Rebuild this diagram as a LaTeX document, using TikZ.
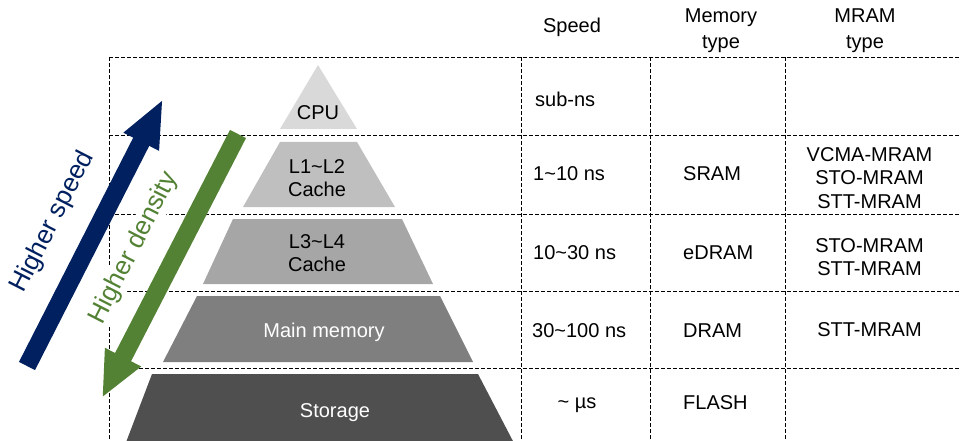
\documentclass[tikz,border=0pt]{standalone}
\usepackage{fontspec}
\setmainfont{Liberation Sans}
\usetikzlibrary{arrows.meta}
\definecolor{navyarrow}{HTML}{002060}
\definecolor{leafarrow}{HTML}{548235}
\definecolor{tierA}{HTML}{D9D9D9}
\definecolor{tierB}{HTML}{BFBFBF}
\definecolor{tierC}{HTML}{A6A6A6}
\definecolor{tierD}{HTML}{7F7F7F}
\definecolor{tierE}{HTML}{4F4F4F}
\begin{document}
\begin{tikzpicture}[x=1pt,y=-1pt,
  gridline/.style={line width=0.9pt, dash pattern=on 4pt off 2pt},
  txt/.style={font=\fontsize{20}{24}\selectfont, inner sep=0pt, anchor=base},
  txtl/.style={txt, anchor=base west},
  sidelabel/.style={font=\fontsize{26}{30}\selectfont, fill=white, inner sep=1.5pt, rotate=63},
  bigarrow/.style={line width=18pt}
]
\useasboundingbox (0,0) rectangle (961,441);

% table grid
\foreach \y in {57,135,214,291,368}
  \draw[gridline] (109,\y) -- (961,\y);
\foreach \x in {109,521,650,785}
  \draw[gridline] (\x,57) -- (\x,441);

% rotated side labels (white boxes hide the grid behind them)
\node[sidelabel, text=navyarrow] (speedlbl) at (53,222) {Higher speed};
\node[sidelabel, text=leafarrow] (denslbl) at (134,248) {Higher density};

% memory pyramid
\fill[tierA] (318,65) -- (357,129) -- (280,129) -- cycle;
\fill[tierB] (280,142) -- (357,142) -- (395,207) -- (243,207) -- cycle;
\fill[tierC] (233,219) -- (402,219) -- (433,284) -- (203,284) -- cycle;
\fill[tierD] (197,296) -- (440,296) -- (473,362) -- (163,362) -- cycle;
\fill[tierE] (152,374) -- (478,374) -- (515,445) -- (125,445) -- cycle;

\node[txt] (cpu) at (318,120) {CPU};
\node[txt] (l12a) at (317,173) {L1\textasciitilde L2};
\node[txt] (l12b) at (317,196) {Cache};
\node[txt] (l34a) at (317,248) {L3\textasciitilde L4};
\node[txt] (l34b) at (317,271) {Cache};
\node[txt, text=white] (mainmem) at (324,337) {Main memory};
\node[txt, text=white] (storage) at (335,417) {Storage};

% arrows
\coordinate (speedtail) at (27,366);
\coordinate (speedtip) at (163,99);
\draw[bigarrow, navyarrow, -{Triangle[width=36pt,length=48pt]}] (speedtail) -- (speedtip);
\coordinate (denstail) at (238,134);
\coordinate (denstip) at (102,398);
\draw[bigarrow, leafarrow, -{Triangle[width=37pt,length=46pt]}] (denstail) -- (denstip);

% column headers
\node[txt] (hspeed) at (572,33) {Speed};
\node[txt] (hmema) at (721,23) {Memory};
\node[txt] (hmemb) at (721,49) {type};
\node[txt] (hmrama) at (865,23) {MRAM};
\node[txt] (hmramb) at (865,49) {type};

% speed column
\node[txtl] (s1) at (535,106.5) {sub-ns};
\node[txtl] (s2) at (533,180) {1\textasciitilde 10 ns};
\node[txtl] (s3) at (533,259) {10\textasciitilde 30 ns};
\node[txtl] (s4) at (532,337) {30\textasciitilde 100 ns};
\node[txt] (s5) at (577,408) {\textasciitilde{} µs};

% memory type column
\node[txtl] (m2) at (683,180) {SRAM};
\node[txtl] (m3) at (683,259) {eDRAM};
\node[txtl] (m4) at (683,337) {DRAM};
\node[txtl] (m5) at (683,409) {FLASH};

% MRAM type column
\node[txt] (r2a) at (869.5,161) {VCMA-MRAM};
\node[txt] (r2b) at (869.5,184.5) {STO-MRAM};
\node[txt] (r2c) at (869.5,208) {STT-MRAM};
\node[txt] (r3a) at (869.5,252) {STO-MRAM};
\node[txt] (r3b) at (869.5,275.5) {STT-MRAM};
\node[txt] (r4) at (869.5,336) {STT-MRAM};
\end{tikzpicture}
\end{document}
